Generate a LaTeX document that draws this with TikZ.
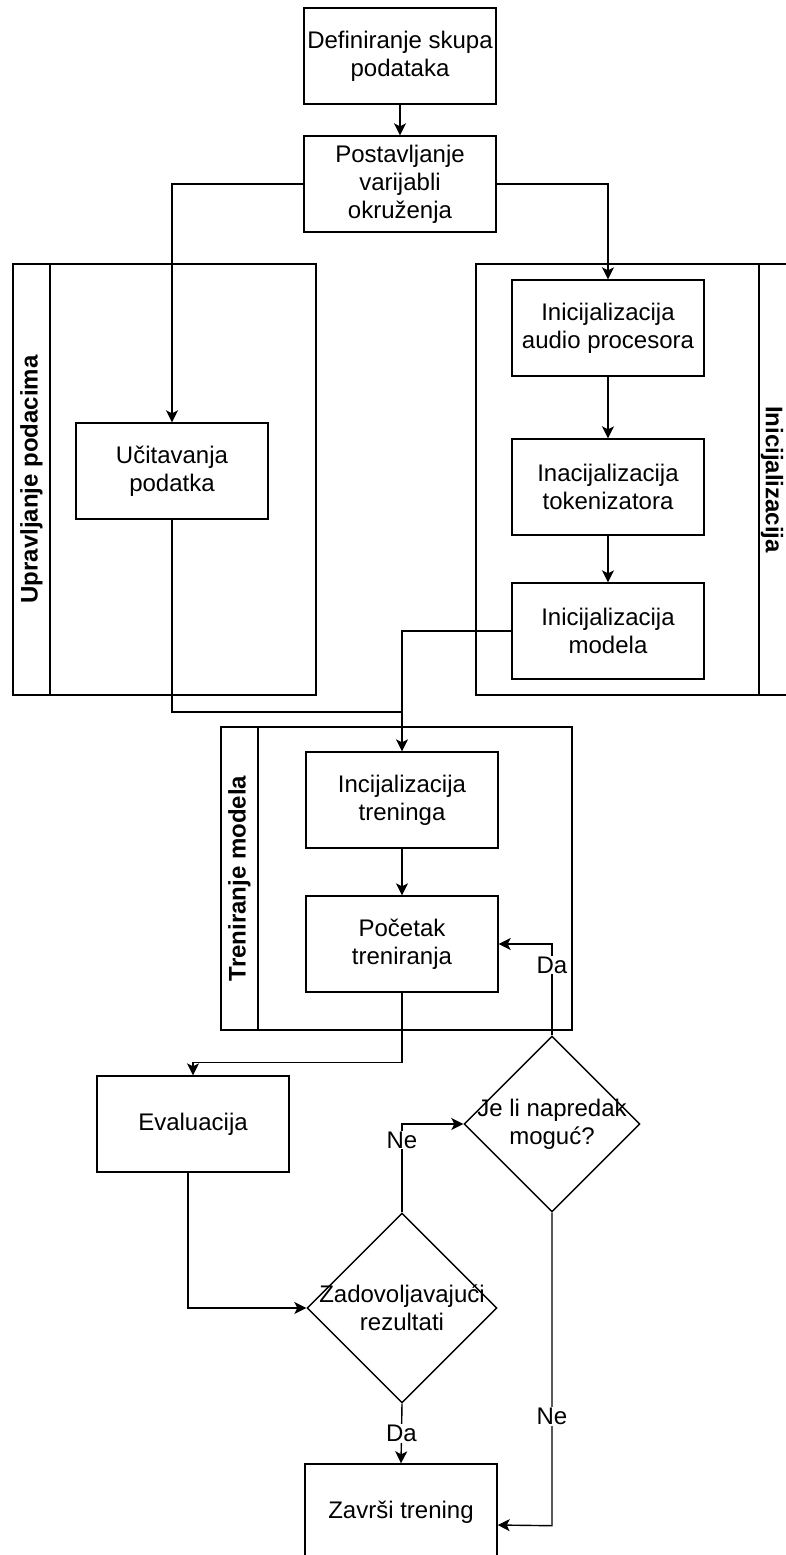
\documentclass[tikz,border=0pt]{standalone}
\usepackage{fontspec}
\setmainfont{Liberation Sans}
\usetikzlibrary{shapes.geometric,arrows.meta}

\begin{document}
\begin{tikzpicture}[x=1pt,y=-1pt,
  every node/.style={font=\fontsize{24}{28}\selectfont},
  box/.style={draw,line width=1.4pt,minimum width=192pt,minimum height=96pt,align=center,inner sep=2pt},
  cond/.style={draw,diamond,line width=1.4pt,inner sep=0pt},
  lane/.style={line width=1.4pt},
  title/.style={font=\fontsize{24}{28}\selectfont\bfseries},
  lbl/.style={fill=white,inner sep=1pt},
  arr/.style={-{Stealth[length=12pt,width=12pt,inset=3pt]},line width=1.4pt}]
         \useasboundingbox (0,0) rectangle (786,1555);
         % lanes
         \draw [lane] (13,264) rectangle (316,695);
         \draw [lane] (50,264) -- (50,695);
         \node [title,rotate=90] (hdata) at (31.5,479.5) {Upravljanje podacima};
         \draw [lane] (476,264) rectangle (796,695);
         \draw [lane] (759,264) -- (759,695);
         \node [title,rotate=-90] (hinit) at (772,479.5) {Inicijalizacija};
         \draw [lane] (221,727) rectangle (572,1030);
         \draw [lane] (258,727) -- (258,1030);
         \node [title,rotate=90] (htrain) at (239.5,878.5) {Treniranje modela};
         % steps
         \node [box] (def) at (400,56) {Definiranje skupa\\podataka};
         \node [box] (env) at (400,184) {Postavljanje\\varijabli\\okruženja};
         \node [box] (load) at (172,471) {Učitavanja\\podatka};
         \node [box] (audio) at (608,328) {Inicijalizacija\\audio procesora};
         \node [box] (tok) at (608,487) {Inacijalizacija\\tokenizatora};
         \node [box] (mod) at (608,631) {Inicijalizacija\\modela};
         \node [box] (tset) at (402,800) {Incijalizacija\\treninga};
         \node [box] (tstart) at (402,944) {Početak\\treniranja};
         \node [box] (eval) at (193,1124) {Evaluacija};
         \node [cond,minimum width=190pt,minimum height=190pt] (ok) at (402,1308) {};
         \node [align=center] (okt) at (ok) {Zadovoljavajući\\rezultati};
         \node [cond,minimum width=176pt,minimum height=176pt] (more) at (552,1124) {};
         \node [align=center] (moret) at (more) {Je li napredak\\moguć?};
         \node [box] (stop) at (401,1512) {Završi trening};
         \coordinate (join) at (402,712);
         % flow
         \draw [arr] (def) -- (env);
         \draw [arr] (env.west) -| (load.north);
         \draw [arr] (env.east) -| (audio.north);
         \draw [arr] (audio) -- (tok);
         \draw [arr] (tok) -- (mod);
         \draw [lane] (load.south) |- (join);
         \draw [arr] (mod.west) -| (tset.north);
         \draw [arr] (tset) -- (tstart);
         \draw [arr] (tstart.south) -- ++(0,70) -| (eval.north);
         \draw [arr] ([xshift=-5pt]eval.south) |- (ok.west);
         \draw [arr] (ok.north) -- node [lbl,pos=0.82] (no1) {Ne} (ok.north |- more.west) -- (more.west);
         \draw [arr] (more.north) -- node [lbl,pos=0.77] (yes1) {Da} (more.north |- tstart.east) -- (tstart.east);
         \draw [arr] (more.south) -- node [lbl,pos=0.65] (no2) {Ne} ++(0,313) -- ([yshift=-13pt]stop.east);
         \draw [arr] (ok.south) -- node [lbl] (yes2) {Da} (stop.north);
\end{tikzpicture}
\end{document}
